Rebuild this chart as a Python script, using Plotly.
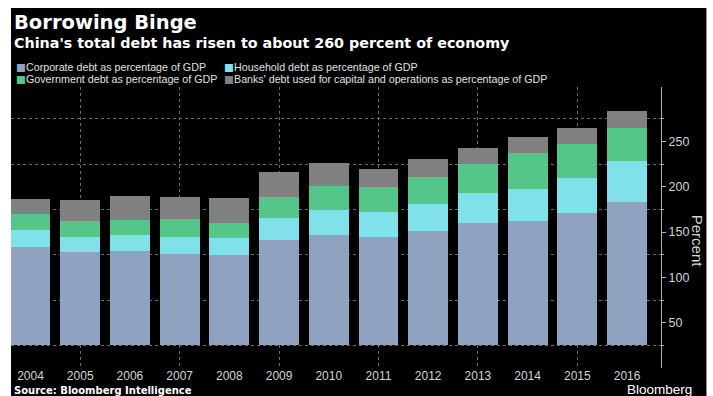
import plotly.graph_objects as go

# ---------------- data ----------------
YEARS = [2004, 2005, 2006, 2007, 2008, 2009, 2010, 2011, 2012, 2013, 2014, 2015, 2016]
CORPORATE = [108, 103, 104, 101, 100, 116, 122, 119, 126, 135, 137, 146, 158]
HOUSEHOLD = [19, 17, 18, 18, 18, 24, 27, 28, 30, 33, 36, 39, 45]
GOVERNMENT = [18, 17, 16, 20, 17, 24, 27, 28, 30, 32, 39, 37, 37]
BANKS = [16, 23, 27, 25, 28, 27, 25, 20, 20, 18, 18, 18, 19]

SERIES_NAMES = [
    "Corporate debt as percentage of GDP",
    "Household debt as percentage of GDP",
    "Government debt as percentage of GDP",
    "Banks' debt used for capital and operations as percentage of GDP",
]
Y_TICK_LABELS = [50, 100, 150, 200, 250]
Y_GRID = [0, 50, 100, 150, 200, 250]
Y_LABEL_OFFSET = 25  # the source prints its tick labels half a step above the gridlines

TITLE = "Borrowing Binge"
SUBTITLE = "China's total debt has risen to about 260 percent of economy"
SOURCE = "Source: Bloomberg Intelligence"

# ---------------- style ----------------
COLORS = ["#8FA3C0", "#80E1EB", "#55C68A", "#808080"]
W, H = 713, 396
ML, MR, MT, MB = 11, 51.5, 87, 28.3
PW, PH = W - ML - MR, H - MT - MB
PLOT_BOTTOM = H - MB


def px(x):
    return (x - ML) / PW


def py(y):
    return (PLOT_BOTTOM - y) / PH


fig = go.Figure()
for name, vals, col in zip(SERIES_NAMES, [CORPORATE, HOUSEHOLD, GOVERNMENT, BANKS], COLORS):
    fig.add_trace(go.Bar(x=YEARS, y=vals, name=name, marker=dict(color=col, line=dict(width=0)),
                         showlegend=False))

fig.update_layout(
    width=W, height=H,
    barmode="stack", bargap=0.2,
    paper_bgcolor="white", plot_bgcolor="black",
    margin=dict(l=ML, r=MR, t=MT, b=MB, pad=0),
    showlegend=False,
    xaxis=dict(
        range=[2003.608, 2016.683],
        tickvals=YEARS, ticktext=[str(y) for y in YEARS],
        ticks="outside", ticklen=0, tickcolor="black",
        ticklabelstandoff=-3,
        showgrid=False, zeroline=False, showline=False,
        tickfont=dict(family="Liberation Sans", size=12, color="#d4d4d4"),
        minor=dict(tickvals=YEARS[1::2], ticks="inside", ticklen=0,
                   showgrid=True, gridcolor="#6a6a6a", griddash="dot", gridwidth=1),
    ),
    yaxis=dict(
        side="right", range=[-25, 285],
        tickvals=[v - Y_LABEL_OFFSET for v in Y_TICK_LABELS],
        ticktext=[str(v) for v in Y_TICK_LABELS],
        ticks="outside", ticklen=4, tickcolor="#b0b0b0",
        showgrid=False, zeroline=False,
        showline=True, linecolor="#b0b0b0", linewidth=1,
        tickfont=dict(family="Liberation Sans", size=12.5, color="#d4d4d4"),
        minor=dict(tickvals=Y_GRID, ticks="outside", ticklen=2, tickcolor="#b0b0b0",
                   showgrid=True, gridcolor="#6a6a6a", griddash="dot", gridwidth=1),
    ),
)

# black panel behind everything
fig.add_shape(type="rect", xref="paper", yref="paper",
              x0=px(11), x1=px(707), y0=py(400), y1=py(8),
              fillcolor="black", line=dict(width=0), layer="below")

ann = []
ann.append(dict(text=TITLE, x=px(12), y=py(22.5), xanchor="left", yanchor="middle",
                font=dict(family="DejaVu Sans", size=19.5, color="white", weight="bold")))
ann.append(dict(text=SUBTITLE, x=px(12), y=py(43), xanchor="left", yanchor="middle",
                font=dict(family="DejaVu Sans", size=14.3, color="white", weight="bold")))

# legend (two columns x two rows)
leg_pos = [(14.5, 67), (222.5, 67), (14.5, 79), (222.5, 79)]
for (lx, ly), name, col in zip(leg_pos, SERIES_NAMES, COLORS):
    ann.append(dict(text="\u25A0", x=px(lx), y=py(ly), xanchor="left", yanchor="middle",
                    font=dict(family="DejaVu Sans", size=10.5, color=col)))
    ann.append(dict(text=name, x=px(lx + 10), y=py(ly), xanchor="left", yanchor="middle",
                    font=dict(family="Liberation Sans", size=10.7, color="#e0e0e0")))

ann.append(dict(text="Percent", x=px(698), y=py(241), textangle=90,
                xanchor="center", yanchor="middle",
                font=dict(family="Liberation Sans", size=15, color="#d4d4d4")))
ann.append(dict(text=SOURCE, x=px(12.5), y=py(390.5), xanchor="left", yanchor="middle",
                font=dict(family="DejaVu Sans", size=10, color="white", weight="bold")))
ann.append(dict(text="Bloomberg", x=px(695), y=py(389.5), xanchor="right", yanchor="middle",
                font=dict(family="Liberation Sans", size=13.5, color="white")))

for a in ann:
    a.update(xref="paper", yref="paper", showarrow=False)
fig.update_layout(annotations=ann)

fig.write_html("out.html")
